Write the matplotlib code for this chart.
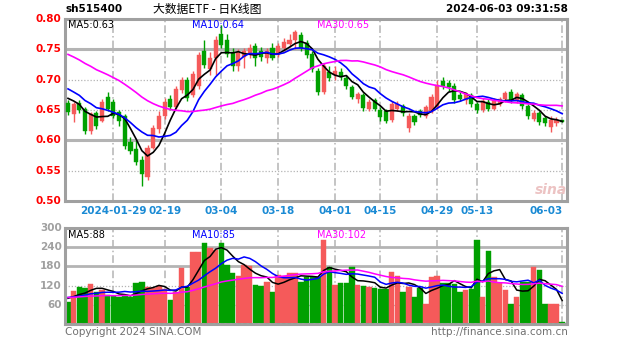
import numpy as np
import pandas as pd
import matplotlib
matplotlib.use("Agg")
import matplotlib.pyplot as plt

plt.rcParams['font.family'] = ['DejaVu Sans', 'Noto Sans CJK SC']

# daily candles, 2024-01-17 .. 2024-06-03 (88 trading days)
opens = [0.661, 0.643, 0.662, 0.652, 0.615, 0.645, 0.632, 0.672, 0.664, 0.646,
         0.640, 0.598, 0.585, 0.568, 0.540, 0.588, 0.618, 0.640, 0.668, 0.655,
         0.683, 0.700, 0.675, 0.690, 0.748, 0.718, 0.735, 0.775, 0.765, 0.745,
         0.722, 0.738, 0.742, 0.756, 0.748, 0.735, 0.752, 0.740, 0.752, 0.758,
         0.765, 0.773, 0.760, 0.742, 0.715, 0.680, 0.712, 0.708, 0.712, 0.703,
         0.688, 0.668, 0.674, 0.652, 0.666, 0.650, 0.648, 0.634, 0.652, 0.656,
         0.621, 0.640, 0.648, 0.640, 0.648, 0.655, 0.698, 0.695, 0.690, 0.675,
         0.666, 0.675, 0.660, 0.650, 0.664, 0.652, 0.660, 0.668, 0.680, 0.665,
         0.675, 0.656, 0.635, 0.645, 0.636, 0.622, 0.628, 0.633]
highs = [0.666, 0.664, 0.667, 0.655, 0.647, 0.649, 0.668, 0.679, 0.668, 0.650,
         0.643, 0.605, 0.600, 0.575, 0.592, 0.626, 0.648, 0.670, 0.675, 0.690,
         0.705, 0.705, 0.715, 0.745, 0.765, 0.745, 0.772, 0.790, 0.775, 0.752,
         0.750, 0.752, 0.758, 0.760, 0.754, 0.752, 0.760, 0.760, 0.768, 0.775,
         0.782, 0.778, 0.765, 0.748, 0.720, 0.728, 0.722, 0.722, 0.720, 0.708,
         0.692, 0.680, 0.678, 0.668, 0.670, 0.655, 0.652, 0.665, 0.665, 0.660,
         0.645, 0.644, 0.652, 0.658, 0.676, 0.700, 0.705, 0.700, 0.694, 0.680,
         0.680, 0.678, 0.664, 0.670, 0.668, 0.670, 0.672, 0.682, 0.684, 0.680,
         0.678, 0.660, 0.650, 0.648, 0.640, 0.640, 0.638, 0.634]
lows = [0.642, 0.630, 0.645, 0.611, 0.610, 0.618, 0.630, 0.648, 0.636, 0.624,
        0.585, 0.578, 0.560, 0.525, 0.535, 0.585, 0.612, 0.635, 0.650, 0.652,
        0.678, 0.665, 0.672, 0.685, 0.720, 0.708, 0.708, 0.752, 0.738, 0.715,
        0.715, 0.720, 0.735, 0.722, 0.730, 0.728, 0.733, 0.738, 0.748, 0.754,
        0.750, 0.748, 0.735, 0.712, 0.675, 0.676, 0.698, 0.700, 0.700, 0.685,
        0.668, 0.662, 0.648, 0.648, 0.648, 0.632, 0.628, 0.630, 0.648, 0.640,
        0.614, 0.625, 0.638, 0.637, 0.645, 0.652, 0.685, 0.682, 0.662, 0.665,
        0.660, 0.655, 0.645, 0.646, 0.648, 0.650, 0.656, 0.664, 0.662, 0.662,
        0.652, 0.635, 0.632, 0.626, 0.624, 0.614, 0.624, 0.630]
closes = [0.646, 0.660, 0.650, 0.615, 0.643, 0.624, 0.664, 0.652, 0.640, 0.632,
          0.590, 0.583, 0.565, 0.545, 0.588, 0.620, 0.640, 0.663, 0.655, 0.685,
          0.700, 0.670, 0.709, 0.740, 0.725, 0.735, 0.765, 0.757, 0.742, 0.722,
          0.745, 0.748, 0.752, 0.735, 0.738, 0.748, 0.736, 0.756, 0.762, 0.766,
          0.778, 0.752, 0.740, 0.718, 0.680, 0.722, 0.702, 0.715, 0.705, 0.690,
          0.672, 0.676, 0.654, 0.664, 0.652, 0.638, 0.632, 0.660, 0.660, 0.645,
          0.640, 0.630, 0.642, 0.655, 0.672, 0.692, 0.690, 0.688, 0.666, 0.668,
          0.676, 0.660, 0.650, 0.665, 0.652, 0.666, 0.668, 0.678, 0.666, 0.676,
          0.656, 0.640, 0.645, 0.630, 0.628, 0.634, 0.633, 0.631]
volume = [70, 104, 116, 112, 124, 101, 105, 90, 88, 85,
          92, 85, 127, 130, 116, 112, 118, 110, 75, 101,
          174, 116, 226, 224, 252, 236, 230, 252, 184, 158,
          150, 184, 180, 122, 118, 130, 100, 153, 150, 158,
          160, 132, 148, 146, 148, 262, 179, 122, 127, 127,
          179, 122, 118, 115, 111, 108, 110, 164, 150, 101,
          116, 85, 111, 64, 148, 150, 127, 128, 125, 100,
          105, 108, 262, 85, 228, 148, 127, 106, 64, 85,
          132, 132, 179, 169, 64, 64, 64, 5]

# closes / volumes before the first candle, only used for the moving averages
prior_close = [0.790, 0.795, 0.788, 0.785, 0.792, 0.786, 0.780, 0.783, 0.778, 0.775,
               0.780, 0.772, 0.768, 0.770, 0.765, 0.760, 0.752, 0.735, 0.728, 0.720,
               0.712, 0.705, 0.700, 0.695, 0.690, 0.682, 0.678, 0.672, 0.668]
prior_volume = [78, 85, 72, 90, 88, 76, 82, 95, 80, 74, 86, 92, 79, 83, 77,
                88, 91, 84, 75, 80, 86, 93, 79, 82, 88, 76, 84, 90, 81]

date_idx = [8, 17, 27, 37, 47, 55, 65, 72, 87]
date_labels = ["2024-01-29", "02-19", "03-04", "03-18", "04-01", "04-15",
               "04-29", "05-13", "06-03"]
price_ticks = [0.50, 0.55, 0.60, 0.65, 0.70, 0.75, 0.80]
vol_ticks = [60, 120, 180, 240, 300]

RED = "#f55a5a"
GREEN = "#00a000"
GRID = "#b4b4b4"
W, H = 627, 342

fig = plt.figure(figsize=(W / 100, H / 100), dpi=100)


def px_axes(l, t, r, b):
    return fig.add_axes([l / W, 1 - b / H, (r - l) / W, (b - t) / H])


def ftext(x, y, s, **kw):
    fig.text(x / W, 1 - y / H, s, **kw)


ax = px_axes(65, 19, 567, 201)
axv = px_axes(65, 228, 567, 324)

n = len(closes)
x = np.arange(n)
o = np.array(opens)
c = np.array(closes)
up = c >= o
cols = np.where(up, RED, GREEN)

for a in (ax, axv):
    a.set_xlim(-0.53, 87.85)
    a.set_xticks([])
    a.set_yticks([])
    for sp in a.spines.values():
        sp.set_color("#a0a0a0")
        sp.set_linewidth(2.2)
    for i in date_idx:
        a.axvline(i, color=GRID, lw=1.1, ls=(0, (5, 2, 1, 2)), zorder=0)

ax.set_ylim(0.50, 0.80)
for p in [0.55, 0.65, 0.70]:
    ax.axhline(p, color=GRID, lw=0.9, ls=(0, (1, 1.5)), zorder=0)
for p in [0.60, 0.75]:
    ax.axhline(p, color=GRID, lw=2.2, zorder=0)

axv.set_ylim(0, 300)
for v in [60, 120]:
    axv.axhline(v, color=GRID, lw=0.9, ls=(0, (1, 1.5)), zorder=0)
for v in [180, 240]:
    axv.axhline(v, color=GRID, lw=2.0, zorder=0)

# candles
ax.vlines(x, lows, highs, colors=cols, lw=1, zorder=2)
ax.bar(x, np.maximum(np.abs(c - o), 0.0015), bottom=np.minimum(o, c),
       width=0.72, color=cols, edgecolor=cols, lw=0.3, zorder=3)

# moving averages
allc = pd.Series(prior_close + closes)
allv = pd.Series(prior_volume + volume)
k = len(prior_close)
for win, col in [(5, "black"), (10, "#0000ff"), (30, "#ff00ff")]:
    ax.plot(x, allc.rolling(win).mean().values[k:], color=col, lw=1.2, zorder=4)

axv.bar(x, volume, width=0.96, color=cols, edgecolor=cols, lw=0.3, zorder=2)
axv.axhline(1, color=GREEN, lw=0.8, ls=(0, (3, 2)), zorder=3)
for win, col in [(5, "black"), (10, "#0000ff"), (30, "#ff00ff")]:
    axv.plot(x, allv.rolling(win).mean().values[k:], color=col, lw=1.1, zorder=4)

# tick labels
for p in price_ticks:
    y = 201 - (p - 0.50) / 0.30 * 182
    ftext(61, y, f"{p:.2f}", color="red", fontsize=7.5, ha="right", va="center",
          fontweight="bold")
for v in vol_ticks:
    y = 324 - v / 300 * 96
    ftext(62, y, f"{v}", color="#a0a0a0", fontsize=7.5, ha="right", va="center",
          fontweight="bold")
for i, lab in zip(date_idx, date_labels):
    xp = 65 + (i + 0.53) / 88.38 * 502
    ha = "center"
    if lab == "06-03":
        xp, ha = 563, "right"
    ftext(xp, 211, lab, color="#1a8ad4", fontsize=7.5, ha=ha, va="center",
          fontweight="bold")

# header texts
ftext(66, 9, "sh515400", color="black", fontsize=7.5, va="center", fontweight="bold")
ftext(207, 9, "大数据ETF - 日K线图", fontsize=8.5, va="center", ha="center",
      family=["Noto Sans CJK SC", "DejaVu Sans"])
ftext(568, 9, "2024-06-03 09:31:58", fontsize=7.5, va="center", ha="right",
      fontweight="bold")

ftext(68, 25, "MA5:0.63", color="black", fontsize=7, va="center")
ftext(192, 25, "MA10:0.64", color="#0000ff", fontsize=7, va="center")
ftext(317, 25, "MA30:0.65", color="#ff00ff", fontsize=7, va="center")
ftext(68, 235, "MA5:88", color="black", fontsize=7, va="center")
ftext(192, 235, "MA10:85", color="#0000ff", fontsize=7, va="center")
ftext(317, 235, "MA30:102", color="#ff00ff", fontsize=7, va="center")

ftext(65, 332, "Copyright 2024 SINA.COM", color="#707070", fontsize=7.5, va="center")
ftext(568, 332, "http://finance.sina.com.cn", color="#707070", fontsize=7.5,
      va="center", ha="right")
ftext(551, 190, "sina", color="#e8b4b4", fontsize=10, va="center", ha="center",
      fontweight="bold", style="italic", alpha=0.8)

fig.savefig("out.png", dpi=100)
